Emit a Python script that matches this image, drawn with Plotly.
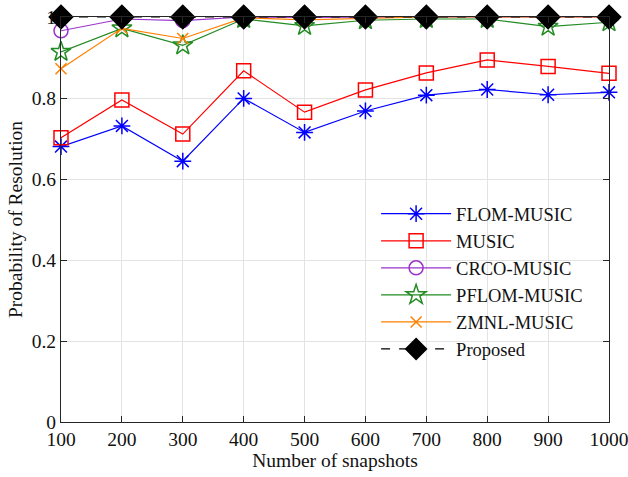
import plotly.graph_objects as go

snapshots = [100, 200, 300, 400, 500, 600, 700, 800, 900, 1000]
flom_music = [0.680, 0.731, 0.644, 0.799, 0.715, 0.768, 0.807, 0.821, 0.808, 0.814]
music = [0.702, 0.795, 0.711, 0.867, 0.765, 0.820, 0.862, 0.894, 0.878, 0.861]
crco_music = [0.966, 0.995, 0.991, 1.0, 0.999, 1.0, 1.0, 1.0, 1.0, 1.0]
pflom_music = [0.914, 0.972, 0.930, 0.995, 0.978, 0.992, 0.995, 0.995, 0.976, 0.987]
zmnl_music = [0.872, 0.972, 0.947, 0.998, 0.993, 0.997, 1.0, 1.0, 1.0, 1.0]
proposed = [1.0, 1.0, 1.0, 1.0, 1.0, 1.0, 1.0, 1.0, 1.0, 1.0]

series = [
    ("FLOM-MUSIC", flom_music, "#0000ff", "asterisk-open", 14, "solid"),
    ("MUSIC", music, "#ff0000", "square-open", 14, "solid"),
    ("CRCO-MUSIC", crco_music, "#9933cc", "circle-open", 14, "solid"),
    ("PFLOM-MUSIC", pflom_music, "#228b22", "star-open", 15, "solid"),
    ("ZMNL-MUSIC", zmnl_music, "#ff8000", "x-thin-open", 11, "solid"),
    ("Proposed", proposed, "#000000", "diamond", 18, "dash"),
]

fig = go.Figure()
for name, vals, color, sym, size, dash in series:
    fig.add_trace(go.Scatter(
        x=snapshots, y=vals, name=name, mode="lines+markers",
        line=dict(color=color, width=1.2, dash=dash),
        marker=dict(symbol=sym, size=size, color=color,
                    line=dict(color=color, width=1.5)),
        cliponaxis=False,
    ))

axis_common = dict(
    showline=True, linecolor="#262626", linewidth=1, mirror="ticks",
    ticks="inside", ticklen=6, tickcolor="#262626",
    showgrid=True, gridcolor="#e3e3e3", gridwidth=1, zeroline=False,
    automargin=False, ticklabeloverflow="allow",
    tickfont=dict(family="Liberation Serif", size=19.5, color="#111"),
)

fig.update_layout(
    width=628, height=477,
    margin=dict(l=61, r=19, t=17, b=55),
    paper_bgcolor="white", plot_bgcolor="white",
    font=dict(family="Liberation Serif", color="#111"),
    xaxis=dict(range=[100, 1000], tickvals=snapshots,
               title=dict(text="Number of snapshots", font=dict(size=19.5), standoff=3),
               **axis_common),
    yaxis=dict(range=[0, 1], tickvals=[0, 0.2, 0.4, 0.6, 0.8, 1],
               ticktext=["0", "0.2", "0.4", "0.6", "0.8", "1"],
               title=dict(text="Probability of Resolution", font=dict(size=19.5), standoff=3),
               **axis_common),
    legend=dict(x=0.575, y=0.56, xanchor="left", yanchor="top",
                bgcolor="rgba(0,0,0,0)", borderwidth=0,
                font=dict(family="Liberation Serif", size=18.5, color="#111"),
                tracegroupgap=0, itemwidth=70),
    showlegend=True,
)

fig.write_html("out.html", config={"displayModeBar": False},
               post_script="document.body.style.margin='0';document.body.style.overflow='hidden';")
